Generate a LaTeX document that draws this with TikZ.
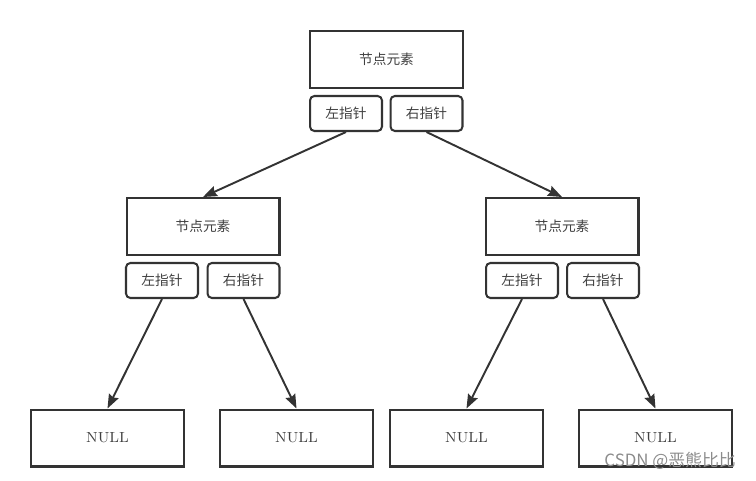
\documentclass[tikz,border=0pt]{standalone}
\usepackage{fontspec}
\newfontfamily\cjk{Noto Sans CJK SC}
\usetikzlibrary{arrows.meta}
\definecolor{linegray}{HTML}{333333}

\begin{document}
\begin{tikzpicture}[x=0.02cm,y=-0.02cm,
		elem/.style={draw=linegray,line width=1.15pt,minimum width=3.06cm,minimum height=1.14cm,font=\cjk\fontsize{7.8}{9}\selectfont,text=black!75},
		ptr/.style={draw=linegray,line width=1.15pt,rounded corners=2.5pt,minimum width=1.44cm,minimum height=0.7cm,font=\cjk\fontsize{7.8}{9}\selectfont,text=black!75},
		nullbox/.style={elem,font=\fontsize{8.3}{10}\selectfont},
		link/.style={draw=linegray,line width=1.1pt,-{Stealth[length=8pt,width=6pt,inset=1pt]}}]
			\useasboundingbox (0,0) rectangle (756,480);
			% root
			\node[elem] (root) at (386.5,59.5) {节点元素};
			\node[ptr] (rootL) at (346,113.5) {左指针};
			\node[ptr] (rootR) at (426.5,113.5) {右指针};
			% left child
			\node[elem] (lft) at (203,226.5) {节点元素};
			\node[ptr] (lftL) at (162,280.5) {左指针};
			\node[ptr] (lftR) at (243.5,280.5) {右指针};
			% right child
			\node[elem] (rgt) at (562,226.5) {节点元素};
			\node[ptr] (rgtL) at (522,280.5) {左指针};
			\node[ptr] (rgtR) at (603,280.5) {右指针};
			% leaves
			\node[nullbox] (nullA) at (107.5,438) {NULL};
			\node[nullbox] (nullB) at (296.5,438) {NULL};
			\node[nullbox] (nullC) at (466.5,438) {NULL};
			\node[nullbox] (nullD) at (655.5,438) {NULL};
			%
			\draw[link] (rootL.south) -- (lft.north);
			\draw[link] (rootR.south) -- (rgt.north);
			\draw[link] (lftL.south) -- (nullA.north);
			\draw[link] (lftR.south) -- (nullB.north);
			\draw[link] (rgtL.south) -- (nullC.north);
			\draw[link] (rgtR.south) -- (nullD.north);
			% watermark
			\node[anchor=east,text=black!45,font=\cjk\fontsize{9.6}{11}\selectfont] (mark) at (742,461) {CSDN @恶熊比比};
		\end{tikzpicture}
\end{document}
